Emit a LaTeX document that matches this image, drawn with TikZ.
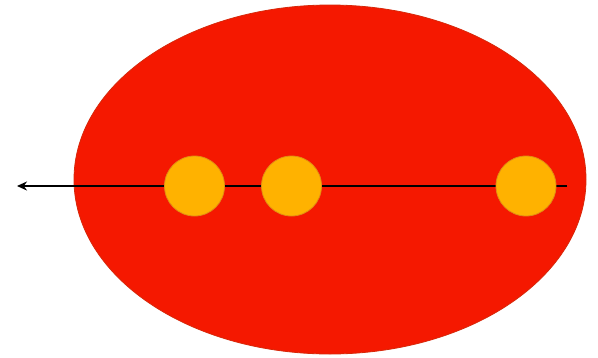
\documentclass[tikz,border=0pt]{standalone}
\usetikzlibrary{arrows.meta}
\definecolor{bigred}{RGB}{245,24,0}
\definecolor{bigredline}{RGB}{215,40,10}
\definecolor{ballorange}{RGB}{255,178,0}
\definecolor{ballline}{RGB}{225,140,20}
\tikzset{
  ball/.style={circle, fill=ballorange, draw=ballline, line width=0.8pt, minimum size=60pt, inner sep=0pt},
  body/.style={ellipse, fill=bigred, draw=bigredline, line width=0.8pt},
  axisline/.style={line width=2pt, -{Stealth[length=10pt,width=9pt]}}
}
\usetikzlibrary{shapes.geometric}
\begin{document}
\begin{tikzpicture}[x=1pt,y=-1pt]
\useasboundingbox (0,0) rectangle (598,357);
\fill[white] (0,0) rectangle (598,357);
\node[body, minimum width=512pt, minimum height=349pt, inner sep=0pt] (core) at (330,179.5) {};
\coordinate (start) at (567,186);
\coordinate (tip) at (17,186);
\draw[axisline] (start) -- (tip);
\node[ball] (b1) at (194.5,186) {};
\node[ball] (b2) at (291.5,186) {};
\node[ball] (b3) at (526,186) {};
\end{tikzpicture}
\end{document}
